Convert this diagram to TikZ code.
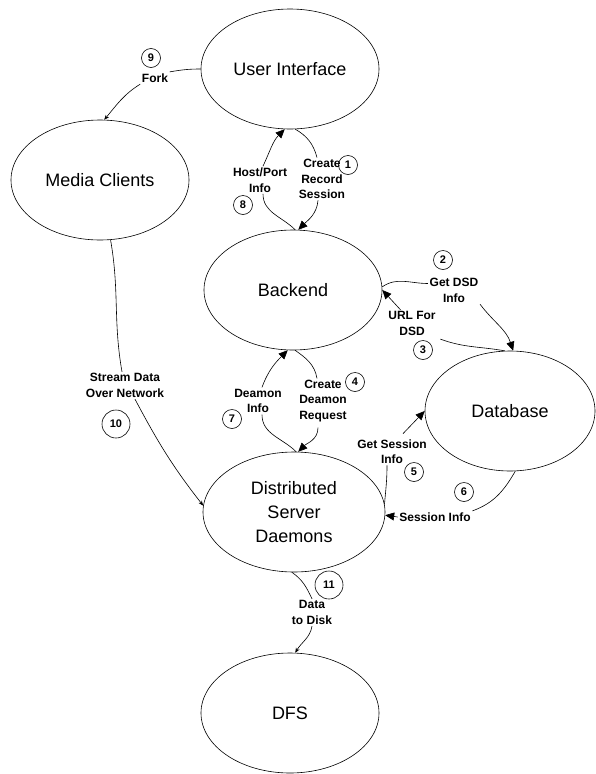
\documentclass[tikz,border=0pt]{standalone}
\usepackage{fontspec}
\setmainfont{Liberation Sans}
\usetikzlibrary{shapes.geometric,arrows.meta}
\begin{document}
\begin{tikzpicture}[x=1pt,y=1pt,
  proc/.style={draw, ellipse, line width=0.6pt, minimum width=178pt, minimum height=120pt, inner sep=0pt, font=\fontsize{18}{24}\selectfont, align=center},
  lbl/.style={font=\bfseries\fontsize{12}{15.5}\selectfont, align=center, inner sep=1.5pt},
  num/.style={draw, circle, line width=0.6pt, minimum size=19pt, inner sep=0pt, font=\bfseries\fontsize{11}{13}\selectfont},
  bignum/.style={num, minimum size=28pt},
  conn/.style={line width=0.6pt},
  big/.style={conn, -{Triangle[length=9pt,width=8pt]}},
  small/.style={conn, -{Stealth[length=5pt,width=4pt]}},
]
\useasboundingbox (0,0) rectangle (596,-774);
% processes
\node[proc] (ui) at (290,-69) {User Interface};
\node[proc] (mc) at (100,-180) {Media Clients};
\node[proc] (be) at (293,-290) {Backend};
\node[proc, minimum width=170pt] (db) at (510,-411) {Database};
\node[proc, minimum width=182pt] (dsd) at (294,-512) {Distributed\\Server\\Daemons};
\node[proc] (dfs) at (290,-713) {DFS};
% labels
\node[lbl] (fork) at (155,-78) {Fork};
\node[lbl] (hp) at (260,-180) {Host/Port\\Info};
\node[lbl] (crs) at (322,-179) {Create\\Record\\Session};
\node[lbl] (gdi) at (454,-290.5) {Get DSD\\Info};
\node[lbl] (url) at (412,-323.5) {URL For\\DSD};
\node[lbl] (cdr) at (323,-401) {Create\\Deamon\\Request};
\node[lbl] (di) at (258,-401) {Deamon\\Info};
\node[lbl] (gsi) at (392,-451.5) {Get Session\\Info};
\node[lbl] (si) at (435,-517) {Session Info};
\node[lbl] (sd) at (125,-385.5) {Stream Data\\Over Network};
\node[lbl] (dd) at (312,-612.5) {Data\\to Disk};
% numbers
\node[num] (n1) at (348,-165) {1};
\node[num] (n2) at (443,-260) {2};
\node[num] (n3) at (423,-350) {3};
\node[num] (n4) at (355,-382) {4};
\node[num] (n5) at (414,-472) {5};
\node[num] (n6) at (464,-492) {6};
\node[num] (n7) at (232,-419) {7};
\node[num] (n8) at (243,-205) {8};
\node[num] (n9) at (151,-58) {9};
\node[bignum] (n10) at (116,-424) {10};
\node[bignum] (n11) at (329,-585) {11};
% 9 Fork
\draw[conn] (ui.west) to[out=180,in=10] (fork.north east);
\draw[small] (fork.south west) to[out=212,in=50] (mc.86);
% 8 Host/Port Info
\draw[conn] (be.88) to[out=135,in=270] ([xshift=3pt]hp.south);
\draw[big] ([xshift=3pt]hp.north) to[out=65,in=225] (ui.265);
% 1 Create Record Session
\draw[conn] (ui.275) to[out=-30,in=105] ([xshift=-5pt]crs.north);
\draw[big] ([xshift=-4pt]crs.south) to[out=-95,in=45] (be.85);
% 2 Get DSD Info
\draw[conn] (be.2) to[out=35,in=180] ([yshift=7pt]gdi.west);
\draw[big] (gdi.south east) to[out=-53,in=108] (db.87);
% 3 URL For DSD
\draw[conn] (db.95) to[out=170,in=-20] ([xshift=3pt,yshift=-2pt]url.south east);
\draw[big] (url.130) -- (be.0);
% 7 Deamon Info
\draw[conn] (dsd.88) to[out=135,in=270] ([xshift=4pt]di.south);
\draw[big] ([xshift=4pt]di.north) to[out=70,in=225] (be.265);
% 4 Create Deamon Request
\draw[conn] (be.272) to[out=-35,in=100] ([xshift=-6pt]cdr.north);
\draw[big] ([xshift=-5pt,yshift=-4pt]cdr.south) to[out=-90,in=45] (dsd.86);
% 5 Get Session Info
\draw[conn] (dsd.5) to[out=85,in=-90] ([xshift=-5pt]gsi.south);
\draw[big] ([xshift=11pt,yshift=4pt]gsi.north) -- (db.180);
% 6 Session Info
\draw[conn] (db.275) to[out=240,in=20] (si.north east);
\draw[big] (si.west) -- (dsd.-2);
% 10 Stream Data
\draw[conn] (mc.280) to[out=-80,in=100] ([xshift=-3pt]sd.north);
\draw[small] ([xshift=10pt]sd.south) to[out=-62,in=128] (dsd.176);
% 11 Data to Disk
\draw[conn] (dsd.268) to[out=-35,in=115] (dd.north);
\draw[small] (dd.south) to[out=-100,in=60] (dfs.85);
\end{tikzpicture}
\end{document}
